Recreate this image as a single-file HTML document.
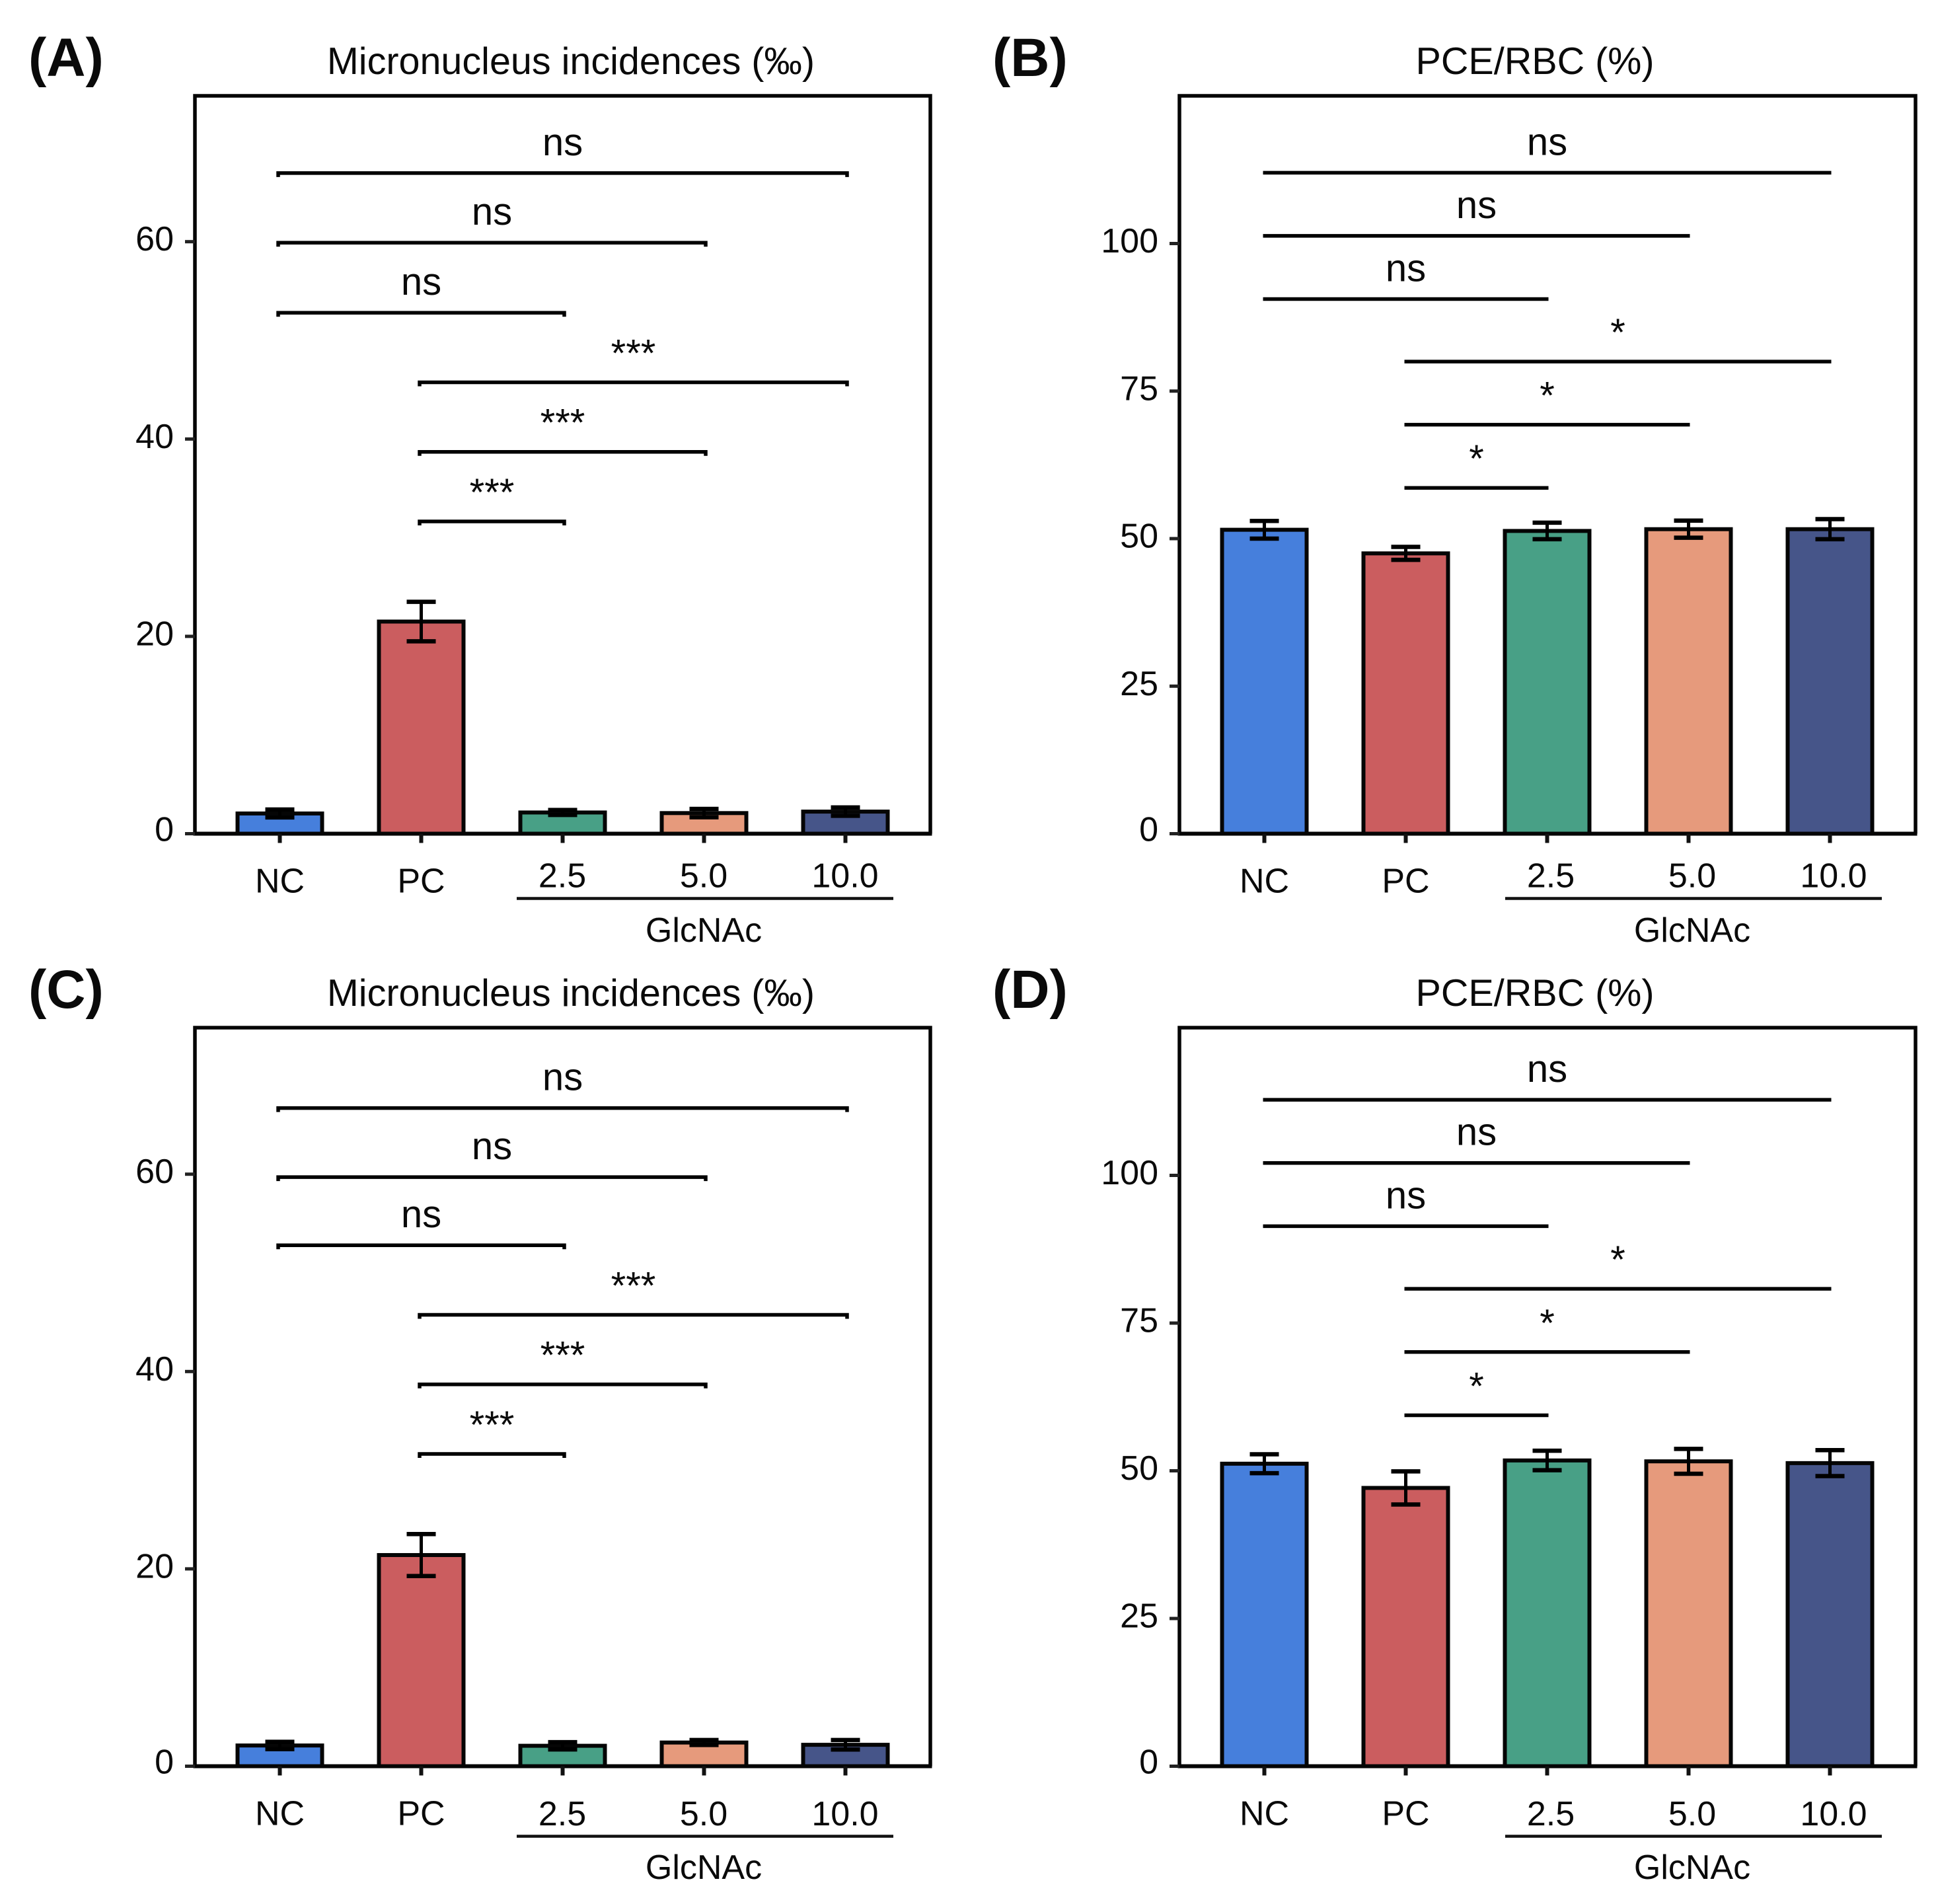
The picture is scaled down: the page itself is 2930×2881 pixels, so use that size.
<!DOCTYPE html>
<html>
<head>
<meta charset="utf-8">
<title>Micronucleus incidences and PCE/RBC bar charts</title>
<style>
html,body{margin:0;padding:0;background:#fff;}
svg{display:block;}
text{font-family:"Liberation Sans",Arial,sans-serif;fill:#0a0a0a;}
</style>
</head>
<body>
<svg id="figure" xmlns="http://www.w3.org/2000/svg" width="2930" height="2881" viewBox="0 0 2930 2881"></svg>
<script>
const categories = ['NC', 'PC', '2.5', '5.0', '10.0'];
const groupLabel = 'GlcNAc';
const microTicks = [0, 20, 40, 60];
const pceTicks = [0, 25, 50, 75, 100];
const bracketFrom = [0, 0, 0, 1, 1, 1];
const bracketTo = [4, 3, 2, 4, 3, 2];
const microBracketLabels = ['ns', 'ns', 'ns', '***', '***', '***'];
const pceBracketLabels = ['ns', 'ns', 'ns', '*', '*', '*'];

const panelAValues = [2.05, 21.5, 2.15, 2.09, 2.24];
const panelAErrors = [0.4, 2.0, 0.25, 0.42, 0.42];
const panelABrackets = [66.95, 59.9, 52.8, 45.75, 38.7, 31.65];

const panelBValues = [51.5, 47.5, 51.3, 51.6, 51.6];
const panelBErrors = [1.5, 1.1, 1.4, 1.45, 1.7];
const panelBBrackets = [112, 101.3, 90.6, 80, 69.3, 58.6];

const panelCValues = [2.1, 21.4, 2.07, 2.4, 2.17];
const panelCErrors = [0.37, 2.13, 0.37, 0.25, 0.48];
const panelCBrackets = [66.7, 59.7, 52.8, 45.75, 38.7, 31.65];

const panelDValues = [51.2, 47.1, 51.75, 51.6, 51.3];
const panelDErrors = [1.6, 2.8, 1.65, 2.1, 2.2];
const panelDBrackets = [112.8, 102.1, 91.4, 80.8, 70.1, 59.4];

const barColors = ['#467fdc', '#cb5d5f', '#48a086', '#e69a7c', '#465589'];
const svg = document.getElementById('figure');
const NS = 'http://www.w3.org/2000/svg';

function mk(tag, attrs, parent) {
  const el = document.createElementNS(NS, tag);
  for (const k in attrs) el.setAttribute(k, attrs[k]);
  parent.appendChild(el);
  return el;
}

function drawPanel(p) {
  const g = mk('g', {}, svg);
  
  
  const xOf = i => p.left + 128.5 + i * 214;
  const yOf = v => p.bottom - v * p.scale;

  const letter = mk('text', {x: p.labelX, y: p.labelY, 'font-size': 82, 'font-weight': 'bold'}, g);
  letter.textContent = '(' + p.id.toUpperCase() + ')';
  
  

  const title = mk('text', {x: p.titleX, y: p.titleY, 'font-size': 57.5, 'text-anchor': 'middle'}, g);
  title.textContent = p.title;
  
  

  p.values.forEach((v, i) => {
    const bar = mk('rect', {x: xOf(i) - 64, y: yOf(v), width: 128, height: p.bottom - yOf(v), fill: barColors[i], stroke: '#050505', 'stroke-width': 6}, g);
    
    

    const hi = yOf(v + p.errors[i]);
    const lo = yOf(v - p.errors[i]);
    const stem = mk('line', {x1: xOf(i), x2: xOf(i), y1: hi, y2: lo, stroke: '#000', 'stroke-width': 5}, g);
    
    
    const capTop = mk('line', {x1: xOf(i) - 22, x2: xOf(i) + 22, y1: hi, y2: hi, stroke: '#000', 'stroke-width': 6.5}, g);
    
    
    const capBottom = mk('line', {x1: xOf(i) - 22, x2: xOf(i) + 22, y1: lo, y2: lo, stroke: '#000', 'stroke-width': 6.5}, g);
    
    
  });

  const frame = mk('path', {d: 'M' + p.left + ' ' + p.bottom + 'V' + p.top + 'H' + p.right + 'V' + p.bottom, fill: 'none', stroke: '#050505', 'stroke-width': 5.5}, g);
  
  
  const xAxis = mk('line', {x1: p.left - 2.5, x2: p.right + 2.5, y1: p.bottom, y2: p.bottom, stroke: '#050505', 'stroke-width': 6}, g);
  
  

  p.ticks.forEach(t => {
    const tick = mk('line', {x1: p.left - 15, x2: p.left, y1: yOf(t), y2: yOf(t), stroke: '#222', 'stroke-width': 5}, g);
    
    
    const label = mk('text', {x: p.left - 32, y: yOf(t) + (t === 0 ? 11 : 13.5), 'font-size': 52, 'text-anchor': 'end'}, g);
    label.textContent = String(t);
    
    
  });

  categories.forEach((c, i) => {
    const tick = mk('line', {x1: xOf(i), x2: xOf(i), y1: p.bottom, y2: p.bottom + 14, stroke: '#111', 'stroke-width': 6}, g);
    
    
    const grouped = i >= 2;
    const label = mk('text', {x: xOf(i) + (grouped ? p.groupShift : 0), y: p.bottom + (grouped ? p.groupBase : 89), 'font-size': 52, 'text-anchor': 'middle'}, g);
    label.textContent = c;
    
    
  });

  const rule = mk('line', {x1: xOf(2) - 68 + p.groupShift - 1, x2: xOf(4) + 73 + p.groupShift, y1: p.bottom + p.ruleOffset, y2: p.bottom + p.ruleOffset, stroke: '#111', 'stroke-width': 4.5}, g);
  
  
  const groupText = mk('text', {x: xOf(3) + p.groupShift, y: p.bottom + p.groupTextOffset, 'font-size': 52, 'text-anchor': 'middle'}, g);
  groupText.textContent = groupLabel;
  
  

  p.brackets.forEach((b, i) => {
    const x1 = xOf(bracketFrom[i]) - 2;
    const x2 = xOf(bracketTo[i]) + 2;
    const y = yOf(b);
    const line = mk('path', {d: p.endTicks ? 'M' + (x1 - 0.5) + ' ' + (y + 6) + 'V' + y + 'H' + (x2 + 0.5) + 'V' + (y + 6) : 'M' + x1 + ' ' + y + 'H' + x2, fill: 'none', stroke: '#000', 'stroke-width': 5.5}, g);
    
    
    const isStar = p.bracketLabels[i].charAt(0) === '*';
    const mark = mk('text', {x: (x1 + x2) / 2, y: y - (isStar ? 24 : 27), 'font-size': 58, 'text-anchor': 'middle'}, g);
    mark.textContent = p.bracketLabels[i];
    
    
  });
}

drawPanel({id: 'a', title: 'Micronucleus incidences (‰)', titleX: 864, titleY: 112, labelX: 43, labelY: 115,
  left: 295, right: 1408, top: 145, bottom: 1261.5, scale: 14.93, ticks: microTicks,
  values: panelAValues, errors: panelAErrors, brackets: panelABrackets, bracketLabels: microBracketLabels,
  endTicks: true, groupShift: -0.5, groupBase: 81, ruleOffset: 98, groupTextOffset: 163.5});
drawPanel({id: 'b', title: 'PCE/RBC (%)', titleX: 2323, titleY: 112, labelX: 1502, labelY: 115,
  left: 1785, right: 2899, top: 145, bottom: 1261.5, scale: 8.93, ticks: pceTicks,
  values: panelBValues, errors: panelBErrors, brackets: panelBBrackets, bracketLabels: pceBracketLabels,
  endTicks: false, groupShift: 5.5, groupBase: 81, ruleOffset: 98, groupTextOffset: 163.5});
drawPanel({id: 'c', title: 'Micronucleus incidences (‰)', titleX: 864, titleY: 1522, labelX: 43, labelY: 1525,
  left: 295, right: 1408, top: 1555, bottom: 2672.5, scale: 14.93, ticks: microTicks,
  values: panelCValues, errors: panelCErrors, brackets: panelCBrackets, bracketLabels: microBracketLabels,
  endTicks: true, groupShift: -0.5, groupBase: 89.5, ruleOffset: 106, groupTextOffset: 170.5});
drawPanel({id: 'd', title: 'PCE/RBC (%)', titleX: 2323, titleY: 1522, labelX: 1502, labelY: 1525,
  left: 1785, right: 2899, top: 1555, bottom: 2672.5, scale: 8.94, ticks: pceTicks,
  values: panelDValues, errors: panelDErrors, brackets: panelDBrackets, bracketLabels: pceBracketLabels,
  endTicks: false, groupShift: 5.5, groupBase: 89.5, ruleOffset: 106, groupTextOffset: 170.5});
</script>
</body>
</html>
